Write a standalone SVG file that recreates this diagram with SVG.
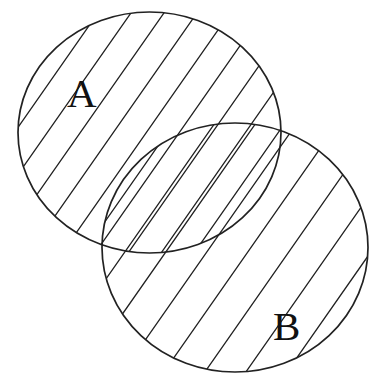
<svg xmlns="http://www.w3.org/2000/svg" width="371" height="374" viewBox="0 0 371 374">
<style>
.edge{fill:none;stroke:#222;stroke-width:1.7}
.hatch{fill:none;stroke:#222;stroke-width:1.3}
.lbl{font-family:"Liberation Serif","Times New Roman",serif;font-size:41px;fill:#111}
</style>
<defs>
<clipPath id="clipA"><ellipse cx="149.5" cy="132.5" rx="131.5" ry="120.5"/></clipPath>
<clipPath id="clipB"><ellipse cx="235" cy="247.5" rx="133" ry="124.5"/></clipPath>
</defs>
<rect width="371" height="374" fill="#fff"/>
<g id="setA">
<path class="hatch" clip-path="url(#clipA)" d="M8 0L-253.5 374M41 0L-220.5 374M74 0L-187.5 374M107 0L-154.5 374M140 0L-121.5 374M173 0L-88.5 374M206 0L-55.5 374M239 0L-22.5 374M272 0L10.5 374M305 0L43.5 374M338 0L76.5 374M371 0L109.5 374M404 0L142.5 374M437 0L175.5 374M470 0L208.5 374"/>
<ellipse class="edge" cx="149.5" cy="132.5" rx="131.5" ry="120.5"/>
<text class="lbl" x="67" y="107">A</text>
</g>
<g id="setB">
<path class="hatch" clip-path="url(#clipB)" d="M178 0L-83.5 374M219 0L-42.5 374M260 0L-1.5 374M301 0L39.5 374M342 0L80.5 374M383 0L121.5 374M424 0L162.5 374M465 0L203.5 374M506 0L244.5 374M547 0L285.5 374M588 0L326.5 374M629 0L367.5 374"/>
<ellipse class="edge" cx="235" cy="247.5" rx="133" ry="124.5"/>
<text class="lbl" x="273" y="340">B</text>
</g>
</svg>
